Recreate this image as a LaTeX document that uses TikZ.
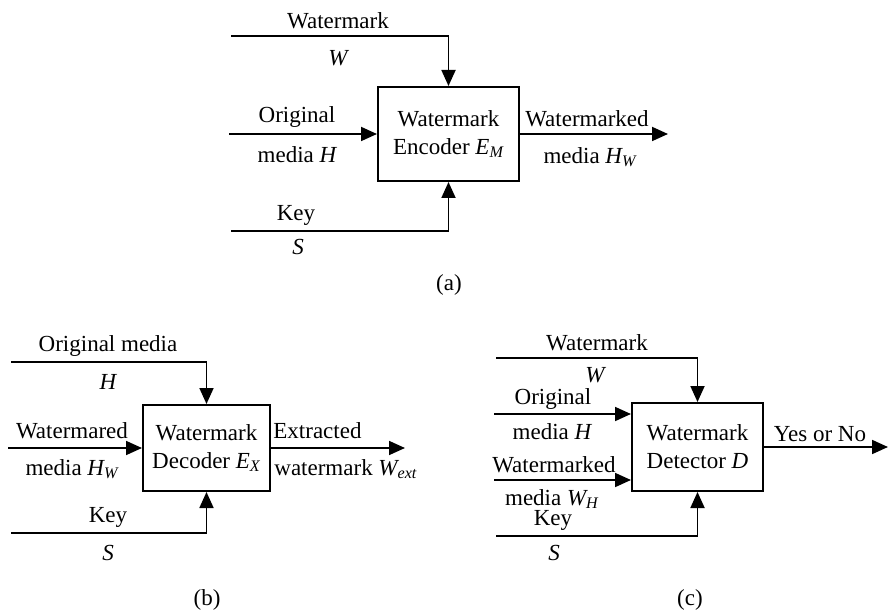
\documentclass[tikz,border=0pt]{standalone}
\usepackage{amsmath}
\usepackage{fontspec}
\setmainfont{Liberation Serif}
\usetikzlibrary{arrows.meta}
\newcommand{\mi}[1]{\textit{#1}}

\begin{document}
\begin{tikzpicture}
    [
    x=0.5pt, y=-0.5pt
    , block/.style = {draw, line width=1pt, align=center, inner sep=0pt}
    , lbl/.style = {inner sep=0pt}
    , sig/.style = {line width=0.9pt}
    , >={Triangle[length=8pt,width=7pt]}
    ]
\fontsize{11.5}{14}\selectfont
\useasboundingbox (0,0) rectangle (888,614);

% (a) encoder
\node[block, minimum width=70.5pt, minimum height=47pt] (enc) at (448.5,134) {Watermark\\Encoder $\mi{E}_{\mi{M}}$};
\coordinate (wa) at (231,36);
\coordinate (ha) at (229,134);
\coordinate (sa) at (231,231);
\coordinate (hwa) at (668,134);
\draw[sig,->] (wa) -| (enc.north);
\draw[sig,->] (ha) -- (enc.west);
\draw[sig,->] (sa) -| (enc.south);
\draw[sig,->] (enc.east) -- (hwa);
\node[lbl] at (338,21) {Watermark};
\node[lbl] at (338,58) {$\mi{W}$};
\node[lbl] at (297,117) {Original};
\node[lbl] at (297,155) {media $\mi{H}$};
\node[lbl] at (296,215) {Key};
\node[lbl] at (298,247) {$\mi{S}$};
\node[lbl] at (587,119) {Watermarked};
\node[lbl] at (590,157) {media $\mi{H}_{\mi{W}}$};
\node[lbl] at (449,285) {(a)};

% (b) decoder
\node[block, minimum width=63.5pt, minimum height=43pt] (dec) at (206.5,448) {Watermark\\Decoder $\mi{E}_{\mi{X}}$};
\coordinate (hb) at (11,362);
\coordinate (hwb) at (8,448);
\coordinate (sb) at (11,533);
\coordinate (web) at (405,448);
\draw[sig,->] (hb) -| (dec.north);
\draw[sig,->] (hwb) -- (dec.west);
\draw[sig,->] (sb) -| (dec.south);
\draw[sig,->] (dec.east) -- (web);
\node[lbl] at (108,346) {Original media};
\node[lbl] at (108,382) {$\mi{H}$};
\node[lbl] at (72,431) {Watermared};
\node[lbl] at (72,469) {media $\mi{H}_{\mi{W}}$};
\node[lbl] at (108,517) {Key};
\node[lbl] at (108,553) {$\mi{S}$};
\node[lbl,anchor=west] at (273,431) {Extracted};
\node[lbl,anchor=west] at (274,469) {watermark $\mi{W}_{\mi{ext}}$};
\node[lbl] at (207,600) {(b)};

% (c) detector
\node[block, minimum width=65.5pt, minimum height=44pt] (det) at (697.5,447) {Watermark\\Detector $\mi{D}$};
\coordinate (wc) at (496,358);
\coordinate (hc) at (494,414);
\coordinate (whc) at (494,480);
\coordinate (sc) at (496,536);
\coordinate (yn) at (888,447);
\draw[sig,->] (wc) -| (det.north);
\draw[sig,->] (hc) -- (hc -| det.west);
\draw[sig,->] (whc) -- (whc -| det.west);
\draw[sig,->] (sc) -| (det.south);
\draw[sig,->] (det.east) -- (yn);
\node[lbl] at (597,343) {Watermark};
\node[lbl] at (595,375) {$\mi{W}$};
\node[lbl] at (553,399) {Original};
\node[lbl] at (552,432) {media $\mi{H}$};
\node[lbl] at (554,465) {Watermarked};
\node[lbl] at (552,499) {media $\mi{W}_{\mi{H}}$};
\node[lbl] at (553,520) {Key};
\node[lbl] at (554,553) {$\mi{S}$};
\node[lbl] at (820,434) {Yes or No};
\node[lbl] at (690,600) {(c)};
\end{tikzpicture}
\end{document}
